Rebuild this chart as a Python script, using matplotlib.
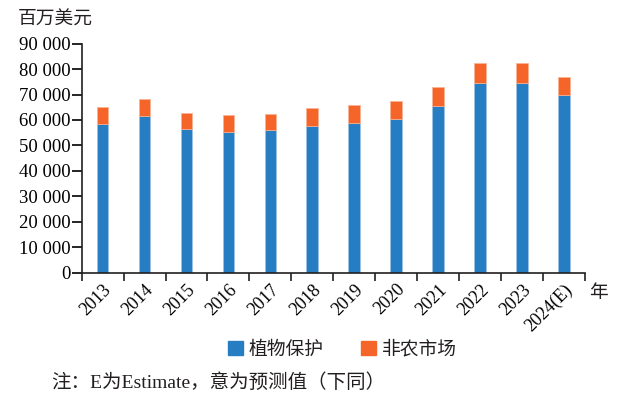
import matplotlib.pyplot as plt
import numpy as np
from matplotlib.patches import Patch
from matplotlib.ticker import FuncFormatter

years = ["2013", "2014", "2015", "2016", "2017", "2018", "2019",
         "2020", "2021", "2022", "2023", "2024(E)"]
crop_protection = [58600, 61600, 56500, 55400, 56000, 57800, 59000,
                   60400, 65400, 74500, 74500, 69700]
total = [65000, 68200, 62800, 62000, 62500, 64700, 66000,
         67600, 73000, 82300, 82300, 76700]
non_crop = [t - c for t, c in zip(total, crop_protection)]

BLUE = "#267dc2"
ORANGE = "#f5652a"
FONTS = ["Liberation Serif", "Noto Sans CJK SC"]

plt.rcParams["font.family"] = FONTS
plt.rcParams["text.color"] = "#231f20"
plt.rcParams["axes.edgecolor"] = "#231f20"

fig = plt.figure(figsize=(6.23, 3.99), dpi=100)
ax = fig.add_axes([0.131, 0.3166, 0.808, 0.574])

x = np.arange(len(years))
ax.bar(x, crop_protection, width=0.28, color=BLUE,
       edgecolor="#9cc4e6", linewidth=0.5)
ax.bar(x, non_crop, width=0.28, bottom=crop_protection, color=ORANGE,
       edgecolor="#f9b394", linewidth=0.5)

ax.set_xlim(-0.5, len(years) - 0.5)
ax.set_ylim(0, 90000)
ax.set_yticks(np.arange(0, 90001, 10000))
ax.yaxis.set_major_formatter(
    FuncFormatter(lambda v, p: f"{int(v):,}".replace(",", " ")))

# category borders carry the ticks, labels sit under the bars
ax.set_xticks(np.arange(len(years) + 1) - 0.5, minor=False)
ax.set_xticklabels([])
ax.set_xticks(x, minor=True)
ax.set_xticklabels(years, minor=True, rotation=45, ha="right",
                   va="top", rotation_mode="anchor", fontsize=13)
ax.tick_params(axis="x", which="major", direction="out", length=6,
               width=1.2, color="#231f20")
ax.tick_params(axis="x", which="minor", length=0, pad=6)
ax.tick_params(axis="y", direction="out", length=7, width=1.2,
               labelsize=13.5, pad=1)

for side in ("top", "right"):
    ax.spines[side].set_visible(False)
ax.spines["left"].set_linewidth(1.2)
ax.spines["bottom"].set_linewidth(1.2)

fig.text(0.028, 0.95, "百万美元", fontsize=13.5, ha="left", va="center")
fig.text(0.945, 0.265, "年", fontsize=13.5, ha="left", va="center")

handles = [Patch(color=BLUE, label="植物保护"),
           Patch(color=ORANGE, label="非农市场")]
fig.legend(handles=handles, loc="center", bbox_to_anchor=(0.55, 0.123),
           ncol=2, frameon=False, fontsize=13.5, handlelength=0.8,
           handleheight=0.8, handletextpad=0.3, columnspacing=2.0)

fig.text(0.082, 0.04, "注：E为Estimate，意为预测值（下同）",
         fontsize=14, ha="left", va="center")

fig.savefig("out.png", dpi=100)
